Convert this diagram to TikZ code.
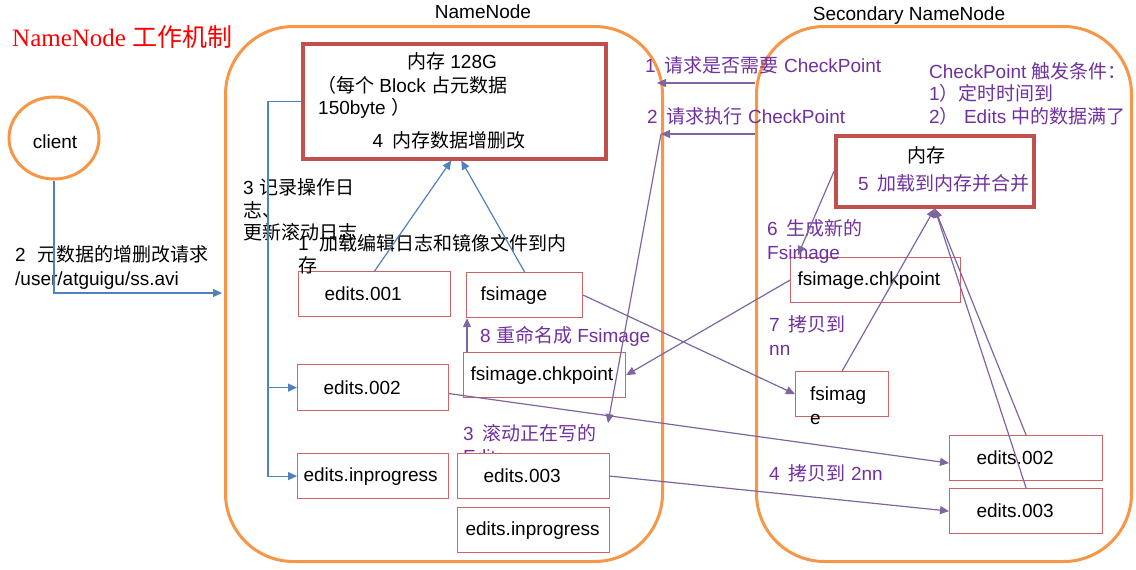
\documentclass[tikz,border=0pt]{standalone}
\usepackage{fontspec}
\setmainfont{Liberation Sans}
\newfontfamily\cjkf{Noto Sans CJK SC}
\newfontfamily\serifl{Liberation Serif}
\newcommand\zhx[1]{{\cjkf #1}}
\usetikzlibrary{arrows.meta,calc,shapes.geometric}
\definecolor{orng}{RGB}{247,150,70}
\definecolor{memred}{RGB}{192,80,77}
\definecolor{boxred}{RGB}{205,100,100}
\definecolor{bl}{RGB}{79,129,189}
\definecolor{pul}{RGB}{128,100,162}
\definecolor{put}{RGB}{112,48,160}
\begin{document}
\begin{tikzpicture}[x=1pt,y=-1pt, font={\fontsize{19}{23}\selectfont},
  container/.style={draw=orng, line width=3pt, rounded corners=68pt, anchor=north west, inner sep=0pt},
  membox/.style={draw=memred, line width=3.5pt, anchor=north west, inner sep=0pt},
  filebox/.style={draw=boxred, line width=1.2pt, fill=white, anchor=north west, inner ysep=0pt, align=left},
  txt/.style={inner sep=0pt, anchor=base west},
  ptxt/.style={txt, text=put},
  blarrow/.style={draw=bl, line width=1.2pt, -{Triangle[length=9pt,width=8pt]}},
  puarrow/.style={draw=pul, line width=1.2pt, -{Triangle[length=9pt,width=8pt]}},
]
\useasboundingbox (0,0) rectangle (1136,570);

% containers
\node[container, minimum width=437pt, minimum height=535pt] (nn) at (224,25) {};
\node[container, minimum width=375pt, minimum height=535pt] (snn) at (755,25) {};
\node[inner sep=0pt] (nnlbl) at (483,12) {NameNode};
\node[inner sep=0pt] (snnlbl) at (909,16) {Secondary NameNode};

% title
\node[txt, text=red, font={\fontsize{25}{30}\selectfont}] (title) at (12,46) {{\serifl NameNode} \zhx{工作机制}};

% client
\node[draw=orng, line width=3pt, ellipse, minimum width=90pt, minimum height=82pt, inner sep=0pt] (client) at (54,138) {};
\node[inner sep=0pt] (clienttxt) at (55,142) {client};

% memory boxes
\node[membox, minimum width=303pt, minimum height=115pt] (memNN) at (301,42) {};
\node[inner sep=0pt] (m1) at (452,61) {\zhx{内存} 128G};
\node[txt] (m2) at (317,92) {\zhx{（每个} Block \zhx{占元数据}};
\node[txt] (m3) at (318,114) {150byte \zhx{）}};
\node[inner sep=0pt] (m4) at (449,140) {4\hspace{9pt}\zhx{内存数据增删改}};

\node[membox, minimum width=198pt, minimum height=71pt] (memS) at (834,134) {};
\node[inner sep=0pt] (ms1) at (926,155) {\zhx{内存}};
\node[ptxt] (ms2) at (858,190) {5\hspace{9pt}\zhx{加载到内存并合并}};

% hidden text behind edits.003
\node[ptxt] (p3a) at (463,440) {3\hspace{9pt}\zhx{滚动正在写的}};
\node[ptxt] (p3b) at (463,463) {Edits};

% file boxes
\node[filebox, minimum width=152pt, minimum height=45pt, inner xsep=26pt, text width=100pt] (e001) at (298,271) {edits.001};
\node[filebox, minimum width=116pt, minimum height=45pt, inner xsep=14pt, text width=88pt] (fsim) at (466,272) {fsimage};
\node[filebox, minimum width=151pt, minimum height=46pt, inner xsep=26pt, text width=99pt] (e002) at (297,364) {edits.002};
\node[filebox, minimum width=162pt, minimum height=45pt, inner xsep=7pt, text width=148pt] (chk) at (463,352) {fsimage.chkpoint};
\node[filebox, minimum width=151pt, minimum height=45pt, inner xsep=6pt, text width=139pt] (einp) at (297,453) {edits.inprogress};
\node[filebox, minimum width=152pt, minimum height=45pt, inner xsep=26pt, text width=100pt] (e003) at (457,453) {edits.003};
\node[filebox, minimum width=152pt, minimum height=45pt, inner xsep=8pt, text width=136pt] (einp2) at (457,507) {edits.inprogress};
\node[filebox, minimum width=170pt, minimum height=45pt, inner xsep=7pt, text width=156pt] (chkS) at (790,257) {fsimage.chkpoint};
\node[filebox, minimum width=93pt, minimum height=45pt, inner sep=0pt] (fsimS) at (795,371) {};
\node[txt] (fsimSa) at (810,400) {fsimag};
\node[txt] (fsimSb) at (810,424) {e};
\node[filebox, minimum width=153pt, minimum height=45pt, inner xsep=27pt, text width=99pt] (e002S) at (949,435) {edits.002};
\node[filebox, minimum width=153pt, minimum height=45pt, inner xsep=27pt, text width=99pt] (e003S) at (949,488) {edits.003};

% black labels
\node[txt] (l3a) at (243,194) {3 \zhx{记录操作日}};
\node[txt] (l3b) at (243,217) {\zhx{志、}};
\node[txt] (l3c) at (243,239) {\zhx{更新滚动日志}};
\node[txt] (l1a) at (298,250) {1\hspace{11pt}\zhx{加载编辑日志和镜像文件到内}};
\node[txt] (l1b) at (298,272) {\zhx{存}};
\node[txt] (l2a) at (15,261) {2\hspace{12pt}\zhx{元数据的增删改请求}};
\node[txt] (l2b) at (15,285) {/user/atguigu/ss.avi};

% purple labels
\node[ptxt] (p1) at (645,72) {1\hspace{9pt}\zhx{请求是否需要} CheckPoint};
\node[ptxt] (p2) at (647,123) {2\hspace{9pt}\zhx{请求执行} CheckPoint};
\node[ptxt] (c1) at (929,78) {CheckPoint \zhx{触发条件：}};
\node[ptxt] (c2) at (929,100) {1\zhx{）定时时间到}};
\node[ptxt] (c3) at (929,123) {2\zhx{）} Edits \zhx{中的数据满了}};
\node[ptxt] (p6a) at (767,235) {6\hspace{9pt}\zhx{生成新的}};
\node[ptxt] (p6b) at (767,259) {Fsimage};
\node[ptxt] (p7a) at (769,331) {7\hspace{9pt}\zhx{拷贝到}};
\node[ptxt] (p7b) at (769,355) {nn};
\node[ptxt] (p4) at (769,480) {4\hspace{9pt}\zhx{拷贝到} 2nn};
\node[ptxt] (p8) at (480,342) {8 \zhx{重命名成} Fsimage};

% blue connectors
\coordinate (reqend) at (222,293);
\draw[blarrow] (client.south) |- (reqend);
\coordinate (bus) at (268,0);
\draw[blarrow] (memNN.west) -| (bus |- einp.west) -- (einp.west);
\draw[blarrow] (bus |- e002.west) -- (e002.west);
\draw[blarrow] (e001.north) -- ($(memNN.south)+(-3,0)$);
\draw[blarrow] (fsim.north) -- ($(memNN.south)+(7,0)$);

% purple connectors
\coordinate (q1) at (657,83);
\coordinate (q2) at (661,134);
\coordinate (roll) at (608,423);
\draw[puarrow] (snn.west |- q1) -- (q1);
\draw[puarrow] (snn.west |- q2) -- (q2);
\draw[puarrow] (q2) -- (roll);
\coordinate (c8) at ($(chk.north west)+(4,0)$);
\draw[puarrow] (c8) -- (c8 |- fsim.south);
\draw[puarrow] (memS.west) -- ($(chkS.north west)+(8,-2)$);
\draw[puarrow] (chkS.west) -- (chk.east);
\draw[puarrow] (fsim.east) -- (fsimS.west);
\draw[puarrow] (fsimS.north) -- (memS.south);
\draw[puarrow] (e002S.north) -- (memS.south);
\draw[puarrow] (e003S.north) -- (memS.south);
\draw[puarrow] ($(e002.east)+(0,6)$) -- ($(e002S.west)+(0,5)$);
\draw[puarrow] (e003.east) -- (e003S.west);
\end{tikzpicture}
\end{document}
